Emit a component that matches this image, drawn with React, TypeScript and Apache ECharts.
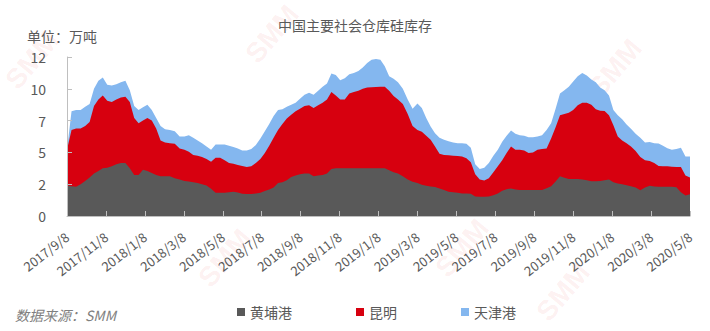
import React, { useEffect, useRef } from "react";
import * as echarts from "echarts";

// Weekly dates (Fridays)
const weekDates = [
  "2017-09-08","2017-09-15","2017-09-22","2017-09-29","2017-10-06","2017-10-13","2017-10-20","2017-10-27","2017-11-03","2017-11-10",
  "2017-11-17","2017-11-24","2017-12-01","2017-12-08","2017-12-15","2017-12-22","2017-12-29",
  "2018-01-05","2018-01-12","2018-01-19","2018-01-26","2018-02-02","2018-02-09","2018-02-16","2018-02-23","2018-03-02","2018-03-09",
  "2018-03-16","2018-03-23","2018-03-30","2018-04-06","2018-04-13","2018-04-20","2018-04-27","2018-05-04","2018-05-11","2018-05-18",
  "2018-05-25","2018-06-01","2018-06-08","2018-06-15","2018-06-22","2018-06-29","2018-07-06","2018-07-13","2018-07-20","2018-07-27",
  "2018-08-03","2018-08-10","2018-08-17","2018-08-24","2018-08-31","2018-09-07","2018-09-14","2018-09-21","2018-09-28","2018-10-05",
  "2018-10-12","2018-10-19","2018-10-26","2018-11-02","2018-11-09","2018-11-16","2018-11-23","2018-11-30","2018-12-07","2018-12-14",
  "2018-12-21","2018-12-28",
  "2019-01-04","2019-01-11","2019-01-18","2019-01-25","2019-02-01","2019-02-08","2019-02-15","2019-02-22","2019-03-01","2019-03-08",
  "2019-03-15","2019-03-22","2019-03-29","2019-04-05","2019-04-12","2019-04-19","2019-04-26","2019-05-03","2019-05-10","2019-05-17",
  "2019-05-24","2019-05-31","2019-06-07","2019-06-14","2019-06-21","2019-06-28","2019-07-05","2019-07-12","2019-07-19","2019-07-26",
  "2019-08-02","2019-08-09","2019-08-16","2019-08-23","2019-08-30","2019-09-06","2019-09-13","2019-09-20","2019-09-27","2019-10-04",
  "2019-10-11","2019-10-18","2019-10-25","2019-11-01","2019-11-08","2019-11-15","2019-11-22","2019-11-29","2019-12-06","2019-12-13",
  "2019-12-20","2019-12-27",
  "2020-01-03","2020-01-10","2020-01-17","2020-01-24","2020-01-31","2020-02-07","2020-02-14","2020-02-21","2020-02-28","2020-03-06",
  "2020-03-13","2020-03-20","2020-03-27","2020-04-03","2020-04-10","2020-04-17","2020-04-24","2020-05-01","2020-05-08",
];

const huangpu = [
  2.3,2.25,2.2,2.4,2.65,2.9,3.2,3.4,3.6,3.65,
  3.75,3.9,4.0,4.0,3.6,3.1,3.1,3.5,3.4,3.25,
  3.1,3.0,3.0,3.0,2.85,2.75,2.65,2.6,2.55,2.5,
  2.4,2.3,2.05,1.76,1.76,1.76,1.8,1.83,1.77,1.68,
  1.66,1.66,1.7,1.76,1.88,2.0,2.15,2.5,2.55,2.7,
  2.95,3.05,3.15,3.2,3.2,3.0,3.05,3.1,3.2,3.55,
  3.6,3.6,3.6,3.6,3.6,3.6,3.6,3.6,3.6,3.6,
  3.6,3.6,3.45,3.3,3.2,3.0,2.75,2.58,2.5,2.35,
  2.28,2.23,2.18,2.08,1.97,1.83,1.8,1.75,1.7,1.69,
  1.67,1.47,1.46,1.46,1.48,1.56,1.7,1.9,2.02,2.08,
  2.0,1.96,1.96,1.96,1.96,1.96,1.96,2.1,2.25,2.6,
  3.0,2.88,2.8,2.8,2.8,2.75,2.7,2.62,2.62,2.65,
  2.7,2.75,2.55,2.45,2.4,2.33,2.25,2.15,1.95,2.15,
  2.28,2.22,2.2,2.2,2.2,2.2,2.17,1.8,1.55,1.65,
];

const kunming = [
  2.7,4.25,4.4,4.2,4.15,4.2,5.1,5.4,5.5,5.05,
  4.85,4.9,4.95,5.0,5.0,4.3,3.9,3.7,4.0,3.95,
  3.5,2.7,2.55,2.5,2.6,2.35,2.35,2.25,2.05,2.05,
  2.05,2.0,2.05,2.64,2.64,2.44,2.2,2.12,2.08,2.1,
  2.04,2.09,2.3,2.54,2.87,3.3,3.75,4.0,4.4,4.65,
  4.7,4.85,4.95,5.1,5.15,5.15,5.3,5.45,5.6,5.8,
  5.5,5.2,5.2,5.65,5.75,5.85,6.0,6.1,6.12,6.14,
  6.15,6.15,6.0,5.75,5.6,5.45,4.95,4.22,4.0,4.0,
  3.77,3.52,3.07,2.62,2.63,2.75,2.75,2.77,2.8,2.66,
  2.38,1.68,1.29,1.21,1.37,1.74,2.05,2.3,2.73,3.17,
  3.0,3.04,2.99,2.79,2.84,3.04,3.09,3.0,3.6,4.1,
  4.6,4.82,5.0,5.2,5.55,5.8,5.85,5.78,5.43,5.3,
  5.22,4.85,4.3,3.55,3.3,3.17,3.0,2.75,2.5,2.05,
  1.87,1.78,1.58,1.55,1.55,1.52,1.53,1.9,1.5,1.25,
];

const tianjin = [
  0,1.4,1.4,1.4,1.45,1.35,1.3,1.4,1.35,1.2,
  1.25,1.15,1.15,1.2,0.9,0.9,1.0,1.0,1.0,0.8,
  0.8,1.1,1.0,1.0,0.95,0.9,1.0,1.25,1.3,1.15,
  1.05,0.95,0.9,1.0,1.0,1.2,1.3,1.25,1.25,1.17,
  1.25,1.3,1.35,1.55,1.65,1.65,1.65,1.5,1.1,0.9,
  0.75,0.65,0.75,0.85,0.95,1.0,1.1,1.2,1.2,1.4,
  1.55,1.45,1.6,1.45,1.45,1.5,1.6,1.85,2.08,2.11,
  2.05,1.55,1.1,1.3,1.3,1.15,1.1,1.3,2.0,1.8,
  1.35,1.0,1.0,1.2,1.15,1.07,1.0,0.98,1.0,1.1,
  1.1,0.75,0.8,0.98,1.15,1.25,1.25,1.4,1.3,1.2,
  1.2,1.1,1.1,1.2,1.15,1.0,1.05,1.4,1.15,1.4,
  1.65,1.8,1.95,2.15,2.2,2.25,2.05,1.9,2.05,1.75,
  1.58,1.5,1.15,1.6,1.6,1.4,1.33,1.3,1.45,1.35,
  1.43,1.5,1.7,1.55,1.37,1.28,1.35,1.45,1.45,1.6,
];

const seriesNames = ["黄埔港", "昆明", "天津港"];
const xTickLabels = [
  "2017/9/8","2017/11/8","2018/1/8","2018/3/8","2018/5/8","2018/7/8","2018/9/8","2018/11/8","2019/1/8",
  "2019/3/8","2019/5/8","2019/7/8","2019/9/8","2019/11/8","2020/1/8","2020/3/8","2020/5/8",
];
const yTickLabels = ["0", "2", "5", "7", "10", "12"];

const TITLE = "中国主要社会仓库硅库存";
const UNIT = "单位：万吨";
const SOURCE = "数据来源：SMM";

// fractional month position counted from 2017/9/8 (each month runs from the 8th to the next 8th)
function monthPos(s: string): number {
  const [y, m, d] = s.split("-").map(Number);
  let ay = y, am = m;
  if (d < 8) {
    am -= 1;
    if (am === 0) { am = 12; ay -= 1; }
  }
  const a = Date.UTC(ay, am - 1, 8);
  const b = Date.UTC(ay, am, 8);
  const t = Date.UTC(y, m - 1, d);
  return (ay - 2017) * 12 + (am - 9) + (t - a) / (b - a);
}

const FONT = "'Noto Sans CJK SC', 'Noto Sans', sans-serif";
const TEXT_COLOR = "#595959";
const COLORS = ["#595959", "#d7000f", "#84b7ef"];

export default function App() {
  const ref = useRef<HTMLDivElement>(null);
  useEffect(() => {
    if (!ref.current) return;
    const chart = echarts.init(ref.current, undefined, { renderer: "svg" });
    const xs = weekDates.map(monthPos);
    const seriesData = [huangpu, kunming, tianjin];
    // stacked tops (each layer drawn down to the axis, upper layers first)
    const cum = seriesData.map((_, k) =>
      xs.map((_, i) => {
        let s = 0;
        for (let j = 0; j <= k; j++) s += seriesData[j][i];
        return +s.toFixed(3);
      })
    );

    const wm = (x: number, y: number, size = 28) => ({
      type: "text",
      x,
      y,
      rotation: (50 * Math.PI) / 180,
      z: -10,
      silent: true,
      style: {
        text: "SMM",
        fontSize: size,
        fontWeight: "bold",
        fontFamily: "Arial, sans-serif",
        fill: "rgba(230,60,60,0.08)",
        align: "center",
        verticalAlign: "middle",
      },
    });

    chart.setOption({
      animation: false,
      textStyle: { fontFamily: FONT },
      color: COLORS,
      title: {
        text: TITLE,
        left: 273,
        top: 13,
        textStyle: { fontSize: 14, fontWeight: "normal", color: TEXT_COLOR, fontFamily: FONT },
      },
      legend: {
        data: seriesNames,
        left: 232,
        top: 300,
        itemGap: 64,
        itemWidth: 8,
        itemHeight: 8,
        icon: "rect",
        textStyle: { fontSize: 14, color: TEXT_COLOR, fontFamily: FONT },
      },
      graphic: [
        wm(32, 60),
        wm(272, 34),
        wm(615, 68),
        wm(225, 258),
        wm(462, 248),
        wm(563, 292),
        {
          type: "text",
          left: 27,
          top: 29,
          style: { text: UNIT, fontSize: 14, fill: TEXT_COLOR, fontFamily: FONT },
        },
        {
          type: "text",
          left: 15,
          top: 308,
          style: { text: SOURCE, fontSize: 14, fill: "#7f7f7f", fontStyle: "italic", fontFamily: FONT },
        },
      ],
      grid: { left: 67, right: 20, top: 57, bottom: 115, containLabel: false },
      xAxis: {
        type: "value",
        min: 0,
        max: 32,
        interval: 2,
        z: 5,
        axisLine: { show: true, lineStyle: { color: "#bfbfbf", width: 1 } },
        axisTick: { show: true, inside: true, length: 5, lineStyle: { color: "#bfbfbf" } },
        splitLine: { show: false },
        axisLabel: {
          rotate: 38,
          margin: 19,
          fontSize: 13,
          color: TEXT_COLOR,
          fontFamily: FONT,
          formatter: (v: number) => xTickLabels[Math.round(v / 2)] ?? "",
        },
      },
      yAxis: {
        type: "value",
        min: 0,
        max: 12,
        interval: 2.4,
        z: 5,
        axisLine: { show: true, lineStyle: { color: "#bfbfbf", width: 1 } },
        axisTick: { show: true, inside: true, length: 5, lineStyle: { color: "#bfbfbf" } },
        splitLine: { show: false },
        axisLabel: {
          margin: 21,
          fontSize: 14,
          color: TEXT_COLOR,
          fontFamily: FONT,
          formatter: (v: number) => yTickLabels[Math.round(v / 2.4)] ?? "",
        },
      },
      series: seriesNames.map((name, k) => ({
        name,
        type: "line",
        z: 4 - k,
        symbol: "none",
        showSymbol: false,
        lineStyle: { width: 0 },
        areaStyle: { color: COLORS[k], opacity: 1 },
        itemStyle: { color: COLORS[k] },
        data: xs.map((x, i) => [x, cum[k][i]]),
      })),
    });
    return () => chart.dispose();
  }, []);
  return (
    <div
      ref={ref}
      style={{ position: "fixed", left: 0, top: 0, width: 710, height: 331, background: "#fff" }}
    />
  );
}
